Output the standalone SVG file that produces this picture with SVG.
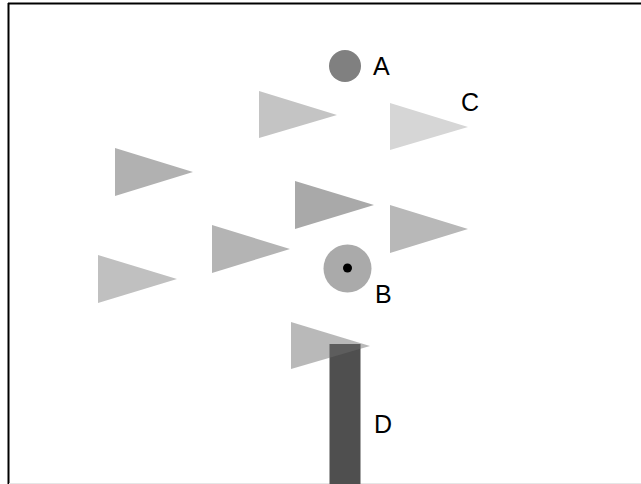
<svg xmlns="http://www.w3.org/2000/svg" width="641" height="484" viewBox="0 0 641 484">
<style>
.lbl{font-family:"Liberation Sans",Arial,sans-serif;font-size:25px;fill:#000}
</style>
<rect x="0" y="0" width="641" height="484" fill="#fff"/>
<g id="frame">
<line x1="8" y1="3.5" x2="641" y2="3.5" stroke="#000" stroke-width="2"/>
<line x1="8.5" y1="3" x2="8.5" y2="484" stroke="#000" stroke-width="2"/>
<line x1="9" y1="483.5" x2="641" y2="483.5" stroke="#e6e6e6" stroke-width="1"/>
</g>
<g id="tri1"><polygon points="259,91 259,138 337,115" fill="#c4c4c4"/></g>
<g id="triC"><polygon points="390,103 390,150 468,127" fill="#d6d6d6"/></g>
<g id="tri3"><polygon points="115,148 115,196 193,172" fill="#b1b1b1"/></g>
<g id="tri4"><polygon points="295,181 295,229 374,205" fill="#a9a9a9"/></g>
<g id="tri5"><polygon points="390,205 390,253 468,229" fill="#b8b8b8"/></g>
<g id="tri6"><polygon points="212,225 212,273 290,249" fill="#b4b4b4"/></g>
<g id="tri7"><polygon points="98,255 98,303 177,279" fill="#c0c0c0"/></g>
<g id="nodeA"><circle cx="345" cy="66" r="16" fill="#808080"/><text class="lbl" x="373" y="75">A</text></g>
<g id="nodeB"><circle cx="347.5" cy="268.5" r="24" fill="#aaaaaa"/><circle cx="347.5" cy="268" r="4.5" fill="#000"/><text class="lbl" x="375" y="303">B</text></g>
<g id="nodeD"><rect x="329.5" y="344" width="31" height="140" fill="#4f4f4f"/><text class="lbl" x="374" y="433">D</text></g>
<g id="tri8"><polygon points="291,322 291,369 370,346" fill="#6c6c6c" fill-opacity="0.48"/></g>
<g id="nodeC"><text class="lbl" x="461" y="111">C</text></g>
</svg>
